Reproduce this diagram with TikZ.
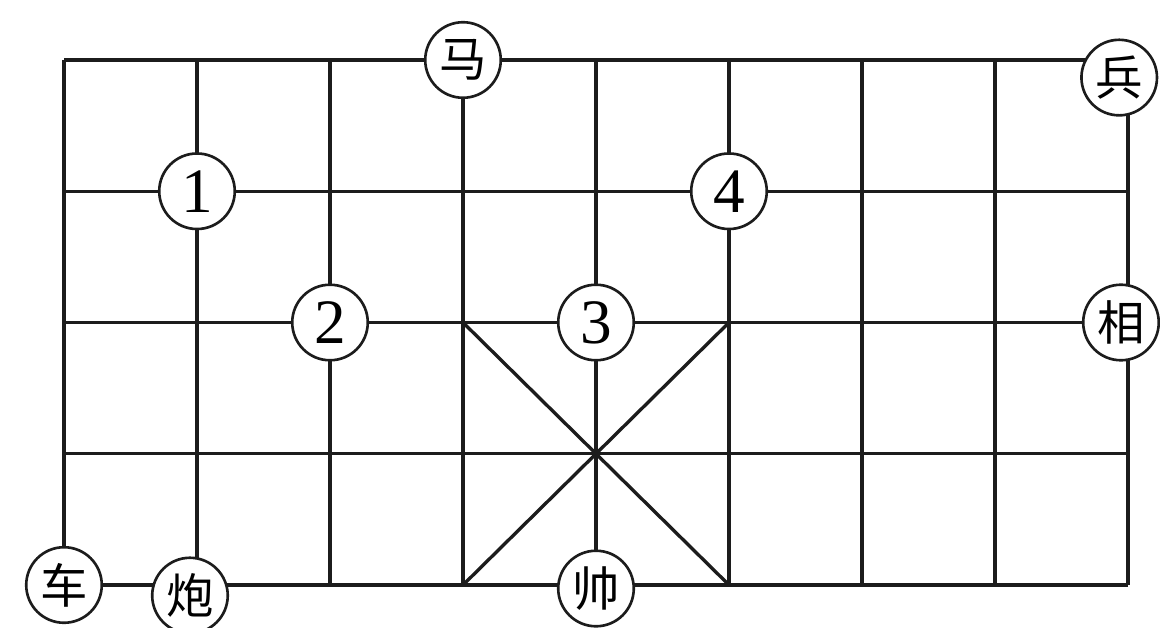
\documentclass[tikz,border=0pt]{standalone}
\usepackage{fontspec}
\setmainfont{Liberation Serif}
\newfontfamily\cjk{Noto Sans CJK SC}
\usetikzlibrary{positioning}
\definecolor{ink}{HTML}{1C1C1C}
\tikzset{
  grid/.style={draw=ink,line width=1.9pt},
  piece/.style={circle,draw=ink,line width=1.5pt,fill=white,minimum size=43pt,
                inner sep=0pt,font=\cjk\fontsize{27}{27}\selectfont},
  num/.style={piece,font=\fontsize{36}{36}\selectfont},
}

\begin{document}
\begin{tikzpicture}[x=0.02cm,y=-0.02cm]
\useasboundingbox (0,0) rectangle (1160,628);
% board points
\foreach \i in {0,...,8}
  \foreach \j in {0,...,4}
    \coordinate (p-\i-\j) at ({64+133*\i},{60+131.25*\j});
% lines
\foreach \j in {0,...,4} \draw[grid] (p-0-\j) -- (p-8-\j);
\foreach \i in {0,...,8} \draw[grid] (p-\i-0) -- (p-\i-4);
\draw[grid] (p-3-2) -- (p-5-4);
\draw[grid] (p-5-2) -- (p-3-4);

% pieces
\node[piece] (ma) at (p-3-0) {马};
\node[piece] (bing) at ([xshift=-5,yshift=-10]p-8-0) {兵};
\node[piece] (xiang) at ([xshift=-4]p-8-2) {相};
\node[piece] (che) at (p-0-4) {车};
\node[piece] (pao) at ([xshift=-4,yshift=-6]p-1-4) {炮};
\node[piece] (shuai) at ([yshift=-2]p-4-4) {帅};

% numbered points
\node[num] (n1) at (p-1-1) {1};
\node[num] (n2) at (p-2-2) {2};
\node[num] (n3) at (p-4-2) {3};
\node[num] (n4) at (p-5-1) {4};
\end{tikzpicture}
\end{document}
